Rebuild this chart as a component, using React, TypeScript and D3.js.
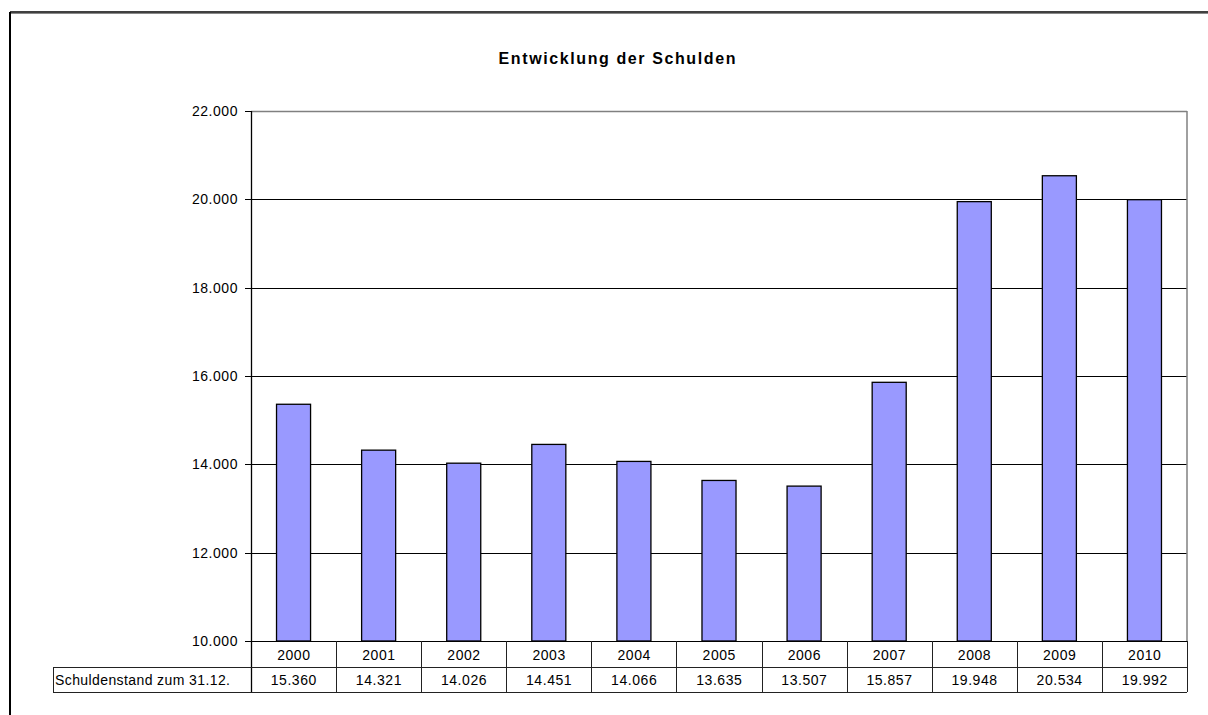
import React from "react";
import * as d3 from "d3";

const years = ["2000", "2001", "2002", "2003", "2004", "2005", "2006", "2007", "2008", "2009", "2010"];
const debt = [15360, 14321, 14026, 14451, 14066, 13635, 13507, 15857, 19948, 20534, 19992];
const yTicks = [10000, 12000, 14000, 16000, 18000, 20000, 22000];
const title = "Entwicklung der Schulden";
const rowLabel = "Schuldenstand zum 31.12.";

const W = 1208, H = 715;
const left = 251, right = 1187, top = 111, bottom = 641;
const row1 = 667, row2 = 692, labelLeft = 53;

const fmt = (v: number) => {
  const s = Math.round(v).toString();
  return s.replace(/\B(?=(\d{3})+(?!\d))/g, ".");
};

export default function App() {
  const x = d3.scaleBand<string>().domain(years).range([left, right]).paddingInner(0.6).paddingOuter(0.3);
  const y = d3.scaleLinear().domain([10000, 22000]).range([bottom, top]);
  const step = (right - left) / years.length;
  const font = "'Liberation Sans', Arial, sans-serif";
  const fs = 14;
  const ls = 0.55;
  return (
    <svg width={W} height={H} style={{ position: "absolute", left: 0, top: 0, background: "#fff" }} fontFamily={font}>
      <rect x={0} y={0} width={W} height={H} fill="#fff" />
      {/* outer chart border */}
      <line x1={10} y1={12} x2={W} y2={12} stroke="#000" strokeWidth={1.5} />
      <line x1={10} y1={13.5} x2={W} y2={13.5} stroke="#888" strokeWidth={1} />
      <line x1={10} y1={12} x2={10} y2={H} stroke="#000" strokeWidth={2} />
      <text x={617 + 0.8} y={63.5} textAnchor="middle" fontSize={16} fontWeight="bold" letterSpacing={1.6}>{title}</text>
      {/* gridlines */}
      {yTicks.slice(0, -1).map((t) => (
        <line key={t} x1={left} x2={right} y1={Math.round(y(t)) + 0.5} y2={Math.round(y(t)) + 0.5} stroke="#000" strokeWidth={1} />
      ))}
      {/* plot border top/right gray */}
      <line x1={left} x2={right} y1={top + 0.5} y2={top + 0.5} stroke="#808080" strokeWidth={1.5} />
      <line x1={right} x2={right} y1={top} y2={bottom} stroke="#808080" strokeWidth={1.5} />
      {/* ticks and labels */}
      {yTicks.map((t) => (
        <g key={t}>
          <line x1={left - 6} x2={left} y1={Math.round(y(t)) + 0.5} y2={Math.round(y(t)) + 0.5} stroke="#000" />
          <text x={237.5 + ls} y={y(t) + 5} textAnchor="end" fontSize={fs} letterSpacing={ls}>{fmt(t)}</text>
        </g>
      ))}
      {/* bars */}
      {years.map((yr, i) => (
        <rect key={yr} x={x(yr)!} y={y(debt[i])} width={x.bandwidth()} height={y(10000) - y(debt[i])} fill="#9999ff" stroke="#000" strokeWidth={1.3} />
      ))}
      {/* axis line */}
      <line x1={left + 0.5} x2={left + 0.5} y1={top} y2={row2} stroke="#000" strokeWidth={1.3} />
      {/* table */}
      <line x1={labelLeft} x2={right} y1={row1 + 0.5} y2={row1 + 0.5} stroke="#222" />
      <line x1={labelLeft} x2={right} y1={row2 + 0.5} y2={row2 + 0.5} stroke="#222" />
      <line x1={labelLeft + 0.5} x2={labelLeft + 0.5} y1={row1} y2={row2} stroke="#222" />
      {years.map((yr, i) => (
        <line key={"d" + yr} x1={Math.round(left + (i + 1) * step) + 0.5} x2={Math.round(left + (i + 1) * step) + 0.5} y1={bottom} y2={row2} stroke="#222" />
      ))}
      {years.map((yr, i) => (
        <g key={"t" + yr}>
          <text x={x(yr)! + x.bandwidth() / 2 + ls / 2} y={659.5} textAnchor="middle" fontSize={fs} letterSpacing={ls}>{yr}</text>
          <text x={x(yr)! + x.bandwidth() / 2 + ls / 2} y={685} textAnchor="middle" fontSize={fs} letterSpacing={ls}>{fmt(debt[i])}</text>
        </g>
      ))}
      <text x={labelLeft + 2} y={685} fontSize={fs} letterSpacing={0.4}>{rowLabel}</text>
    </svg>
  );
}
